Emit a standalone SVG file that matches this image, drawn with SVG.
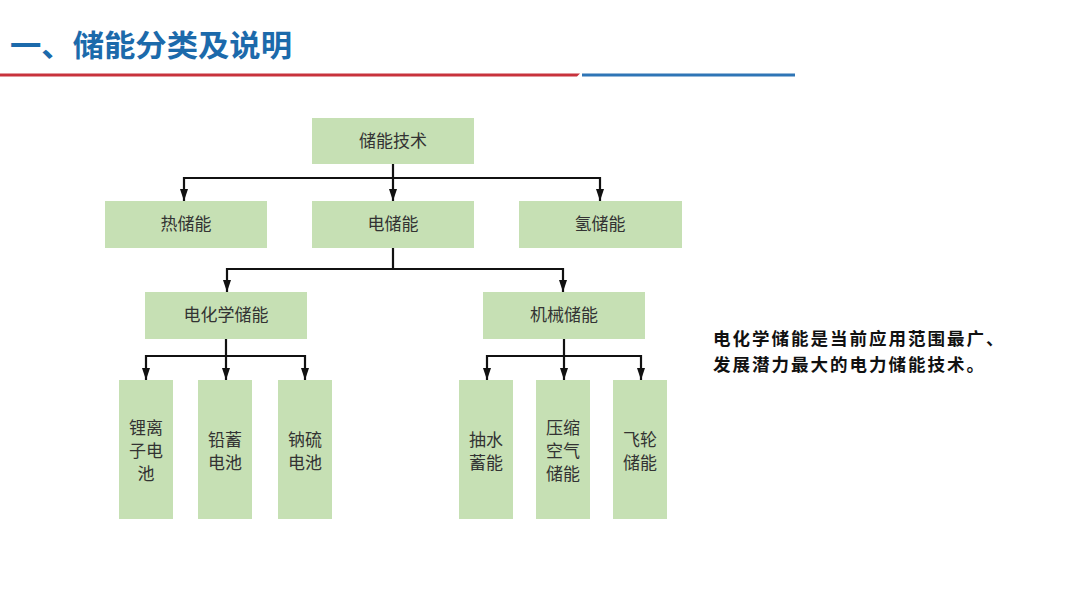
<svg xmlns="http://www.w3.org/2000/svg" width="1080" height="608" viewBox="0 0 1080 608">
<defs>
<marker id="arr" markerWidth="12" markerHeight="8" refX="12" refY="4" orient="auto" markerUnits="userSpaceOnUse" viewBox="0 0 12 8">
<path d="M0,0 L12,4 L0,8 Z" fill="#111"/>
</marker>
<style>
.box{fill:#c6e0b4;}
.lbl{font-family:"Noto Sans CJK SC","Noto Sans",sans-serif;font-size:17px;fill:#333;text-anchor:middle;}
.con{stroke:#111;stroke-width:2.2;fill:none;}
.arw{stroke:#111;stroke-width:2.2;fill:none;marker-end:url(#arr);}
</style>
</defs>
<rect width="1080" height="608" fill="#fff"/>
<text x="10" y="56" font-family="Noto Sans CJK SC,sans-serif" font-size="30" font-weight="bold" fill="#1c6aab" textLength="282" lengthAdjust="spacingAndGlyphs">一、储能分类及说明</text>
<polygon points="0,73.5 580,73.5 577,76.5 0,76.5" fill="#c8323c"/>
<rect x="582" y="73.5" width="213" height="3" fill="#2e75b6"/>

<g id="connectors">
<path class="con" d="M393,164 V178 M184,178 H600"/>
<path class="arw" d="M184,177 V201"/>
<path class="arw" d="M393,177 V201"/>
<path class="arw" d="M600,177 V201"/>
<path class="con" d="M393,248 V269 M227,269 H563"/>
<path class="arw" d="M227,268 V292"/>
<path class="arw" d="M563,268 V292"/>
<path class="con" d="M226,339 V356 M146,356 H305"/>
<path class="arw" d="M146,355 V380"/>
<path class="arw" d="M226,355 V380"/>
<path class="arw" d="M305,355 V380"/>
<path class="con" d="M564,339 V356 M487,356 H641"/>
<path class="arw" d="M487,355 V380"/>
<path class="arw" d="M564,355 V380"/>
<path class="arw" d="M641,355 V380"/>
</g>

<g id="n-root"><rect class="box" x="312" y="118" width="162" height="46"/><text class="lbl" x="393" y="147">储能技术</text></g>
<g id="n-heat"><rect class="box" x="105" y="201" width="162" height="47"/><text class="lbl" x="186" y="230">热储能</text></g>
<g id="n-elec"><rect class="box" x="312" y="201" width="162" height="47"/><text class="lbl" x="393" y="230">电储能</text></g>
<g id="n-h2"><rect class="box" x="519" y="201" width="163" height="47"/><text class="lbl" x="600" y="230">氢储能</text></g>
<g id="n-chem"><rect class="box" x="145" y="292" width="162" height="47"/><text class="lbl" x="226" y="321">电化学储能</text></g>
<g id="n-mech"><rect class="box" x="483" y="292" width="162" height="47"/><text class="lbl" x="564" y="321">机械储能</text></g>

<g id="n-li"><rect class="box" x="119" y="380" width="54" height="139"/><text class="lbl" x="146" y="434">锂离</text><text class="lbl" x="146" y="457">子电</text><text class="lbl" x="146" y="480">池</text></g>
<g id="n-pb"><rect class="box" x="198" y="380" width="54" height="139"/><text class="lbl" x="225" y="446">铅蓄</text><text class="lbl" x="225" y="469">电池</text></g>
<g id="n-nas"><rect class="box" x="278" y="380" width="54" height="139"/><text class="lbl" x="305" y="446">钠硫</text><text class="lbl" x="305" y="469">电池</text></g>
<g id="n-pump"><rect class="box" x="459" y="380" width="54" height="139"/><text class="lbl" x="486" y="446">抽水</text><text class="lbl" x="486" y="469">蓄能</text></g>
<g id="n-caes"><rect class="box" x="536" y="380" width="54" height="139"/><text class="lbl" x="563" y="434">压缩</text><text class="lbl" x="563" y="457">空气</text><text class="lbl" x="563" y="480">储能</text></g>
<g id="n-fly"><rect class="box" x="613" y="380" width="54" height="139"/><text class="lbl" x="640" y="446">飞轮</text><text class="lbl" x="640" y="469">储能</text></g>

<text font-family="Noto Sans CJK SC,sans-serif" font-size="17.5" font-weight="bold" fill="#111"><tspan x="713" y="345" letter-spacing="2">电化学储能是当前应用范围最广、</tspan><tspan x="713" y="371" letter-spacing="2">发展潜力最大的电力储能技术。</tspan></text>
</svg>
